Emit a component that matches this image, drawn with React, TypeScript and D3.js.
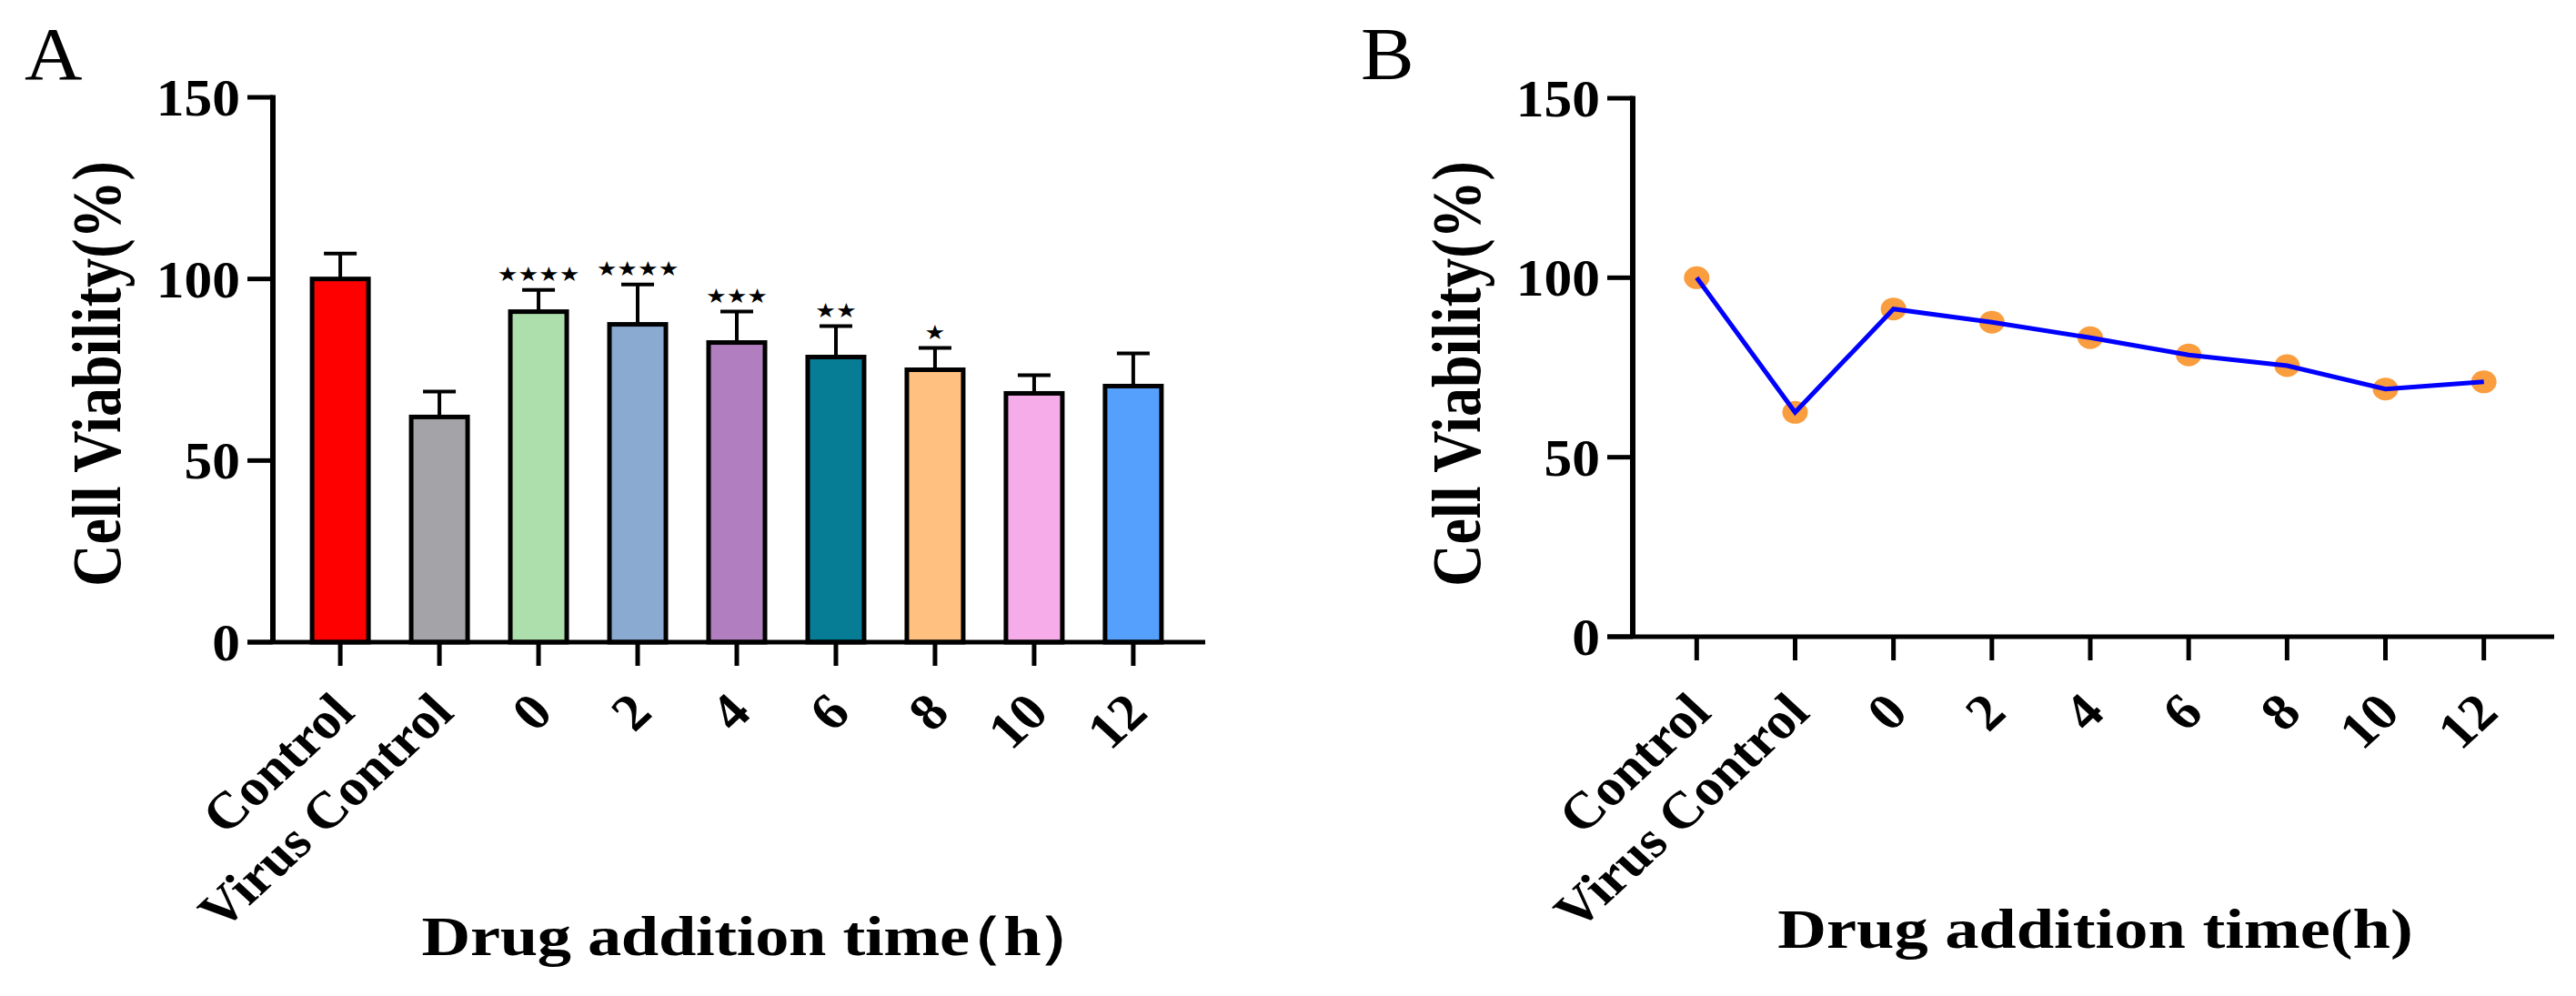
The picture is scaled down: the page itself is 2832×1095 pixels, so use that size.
import React from "react";
import * as d3 from "d3";

// categories on the x axis (both panels)
const categories = ["Control", "Virus Control", "0", "2", "4", "6", "8", "10", "12"];

// panel A: bar means, upper SD and significance marks
const barMeans = [100, 62, 91, 87.5, 82.5, 78.5, 75, 68.5, 70.5];
const barSD = [7, 7, 6, 11, 8.5, 8.5, 6, 5, 9];
const significance = ["", "", "****", "****", "***", "**", "*", "", ""];
const barColors = [
  "#ff0000",
  "#a3a3a8",
  "#addfac",
  "#8aaad2",
  "#b17ebf",
  "#077c95",
  "#ffc080",
  "#f6ace9",
  "#55a0fd",
];

// panel B: line means
const lineMeans = [100, 62.5, 91.3, 87.6, 83.3, 78.5, 75.5, 69, 71];

const yTicks = [0, 50, 100, 150];

const W = 2832;
const H = 1095;
// the source figure is stretched horizontally; titles more than tick labels
const SX_TITLE = 1.2;
const SX_TICK = 1.06;
const FONT = "'Liberation Serif', 'Times New Roman', Times, serif";

const Txt: React.FC<{
  x: number;
  y: number;
  rot?: number;
  sx?: number;
  anchor?: "start" | "middle" | "end";
  size: number;
  weight?: string;
  family?: string;
  length?: number;
  children: React.ReactNode;
}> = ({ x, y, rot = 0, sx = SX_TICK, anchor = "start", size, weight = "bold", family = FONT, length, children }) => (
  <text
    transform={`translate(${x},${y}) scale(${sx},1) rotate(${rot})`}
    textAnchor={anchor}
    fontSize={size}
    fontWeight={weight}
    fontFamily={family}
    textLength={length}
    lengthAdjust={length ? "spacing" : undefined}
    fill="#000"
  >
    {children}
  </text>
);

interface AxesProps {
  x: d3.ScalePoint<string>;
  y: d3.ScaleLinear<number, number>;
  axisX: number;
  axisEnd: number;
  title: React.ReactNode;
  titleY: number;
  titleDx: number;
  titleLength?: number;
}

const Axes: React.FC<AxesProps> = ({ x, y, axisX, axisEnd, title, titleY, titleDx, titleLength }) => {
  const y0 = y(0);
  return (
    <g>
      {/* y axis */}
      <line x1={axisX} x2={axisX} y1={y(150) - 2.5} y2={y0} stroke="#000" strokeWidth={6} />
      {yTicks.map((t) => (
        <g key={t}>
          <line x1={axisX - 28} x2={axisX} y1={y(t)} y2={y(t)} stroke="#000" strokeWidth={5} />
          <Txt x={axisX - 36} y={y(t) + 20} anchor="end" size={58}>
            {t}
          </Txt>
        </g>
      ))}
      {/* x axis */}
      <line x1={axisX - 28} x2={axisEnd} y1={y0} y2={y0} stroke="#000" strokeWidth={5} />
      {categories.map((c) => (
        <g key={c}>
          <line x1={x(c)!} x2={x(c)!} y1={y0} y2={y0 + 26} stroke="#000" strokeWidth={5} />
          <Txt x={x(c)! + 18} y={786} rot={-45} sx={1.08} anchor="end" size={57}>
            {c}
          </Txt>
        </g>
      ))}
      <Txt x={axisX - 168} y={411} rot={-90} sx={SX_TITLE} anchor="middle" size={64}>
        Cell Viability(%)
      </Txt>
      <Txt
        x={(axisX + axisEnd) / 2 + titleDx}
        y={titleY}
        sx={SX_TITLE}
        anchor="middle"
        size={62}
        length={titleLength}
      >
        {title}
      </Txt>
    </g>
  );
};

const App: React.FC = () => {
  // panel A
  const yA = d3.scaleLinear().domain([0, 150]).range([706, 107]);
  const xA = d3.scalePoint<string>().domain(categories).range([300, 1320]).padding(0.68);
  const barW = 62;

  // panel B
  const yB = d3.scaleLinear().domain([0, 150]).range([700, 108]);
  const xB = d3.scalePoint<string>().domain(categories).range([1795, 2801]).padding(0.65);
  const line = d3
    .line<number>()
    .x((_, i) => xB(categories[i])!)
    .y((d) => yB(d));

  return (
    <svg
      width={W}
      height={H}
      style={{ position: "absolute", left: 0, top: 0, background: "#fff" }}
    >
      <rect width={W} height={H} fill="#fff" />

      {/* ---------- A ---------- */}
      <Txt x={27} y={87} size={83} weight="normal">
        A
      </Txt>
      {categories.map((c, i) => {
        const cx = xA(c)!;
        const top = yA(barMeans[i]);
        const cap = yA(barMeans[i] + barSD[i]);
        return (
          <g key={c}>
            <line x1={cx} x2={cx} y1={top} y2={cap} stroke="#000" strokeWidth={4} />
            <line x1={cx - 18} x2={cx + 18} y1={cap} y2={cap} stroke="#000" strokeWidth={4} />
            <rect
              x={cx - barW / 2}
              y={top}
              width={barW}
              height={yA(0) - top}
              fill={barColors[i]}
              stroke="#000"
              strokeWidth={5}
            />
            {significance[i] && (
              <Txt
                x={cx}
                y={cap - 10}
                anchor="middle"
                size={22}
                sx={1.15}
                weight="normal"
                family="'DejaVu Sans', sans-serif"
              >
                {"★".repeat(significance[i].length)}
              </Txt>
            )}
          </g>
        );
      })}
      <Axes
        x={xA}
        y={yA}
        axisX={300}
        axisEnd={1325}
        titleY={1050}
        titleDx={26}
        titleLength={625}
        title={
          <>
            Drug addition time
            <tspan dx={-30}>（</tspan>
            <tspan>h</tspan>
            <tspan dx={-4}>）</tspan>
          </>
        }
      />

      {/* ---------- B ---------- */}
      <Txt x={1496} y={87} size={83} weight="normal">
        B
      </Txt>
      <Axes
        x={xB}
        y={yB}
        axisX={1795}
        axisEnd={2808}
        titleY={1042}
        titleDx={2}
        title="Drug addition time(h)"
      />
      {lineMeans.map((v, i) => (
        <ellipse key={i} cx={xB(categories[i])!} cy={yB(v)} rx={14} ry={12.5} fill="#f99d3e" />
      ))}
      <path d={line(lineMeans) ?? ""} fill="none" stroke="#0000ff" strokeWidth={5} />
    </svg>
  );
};

export default App;
